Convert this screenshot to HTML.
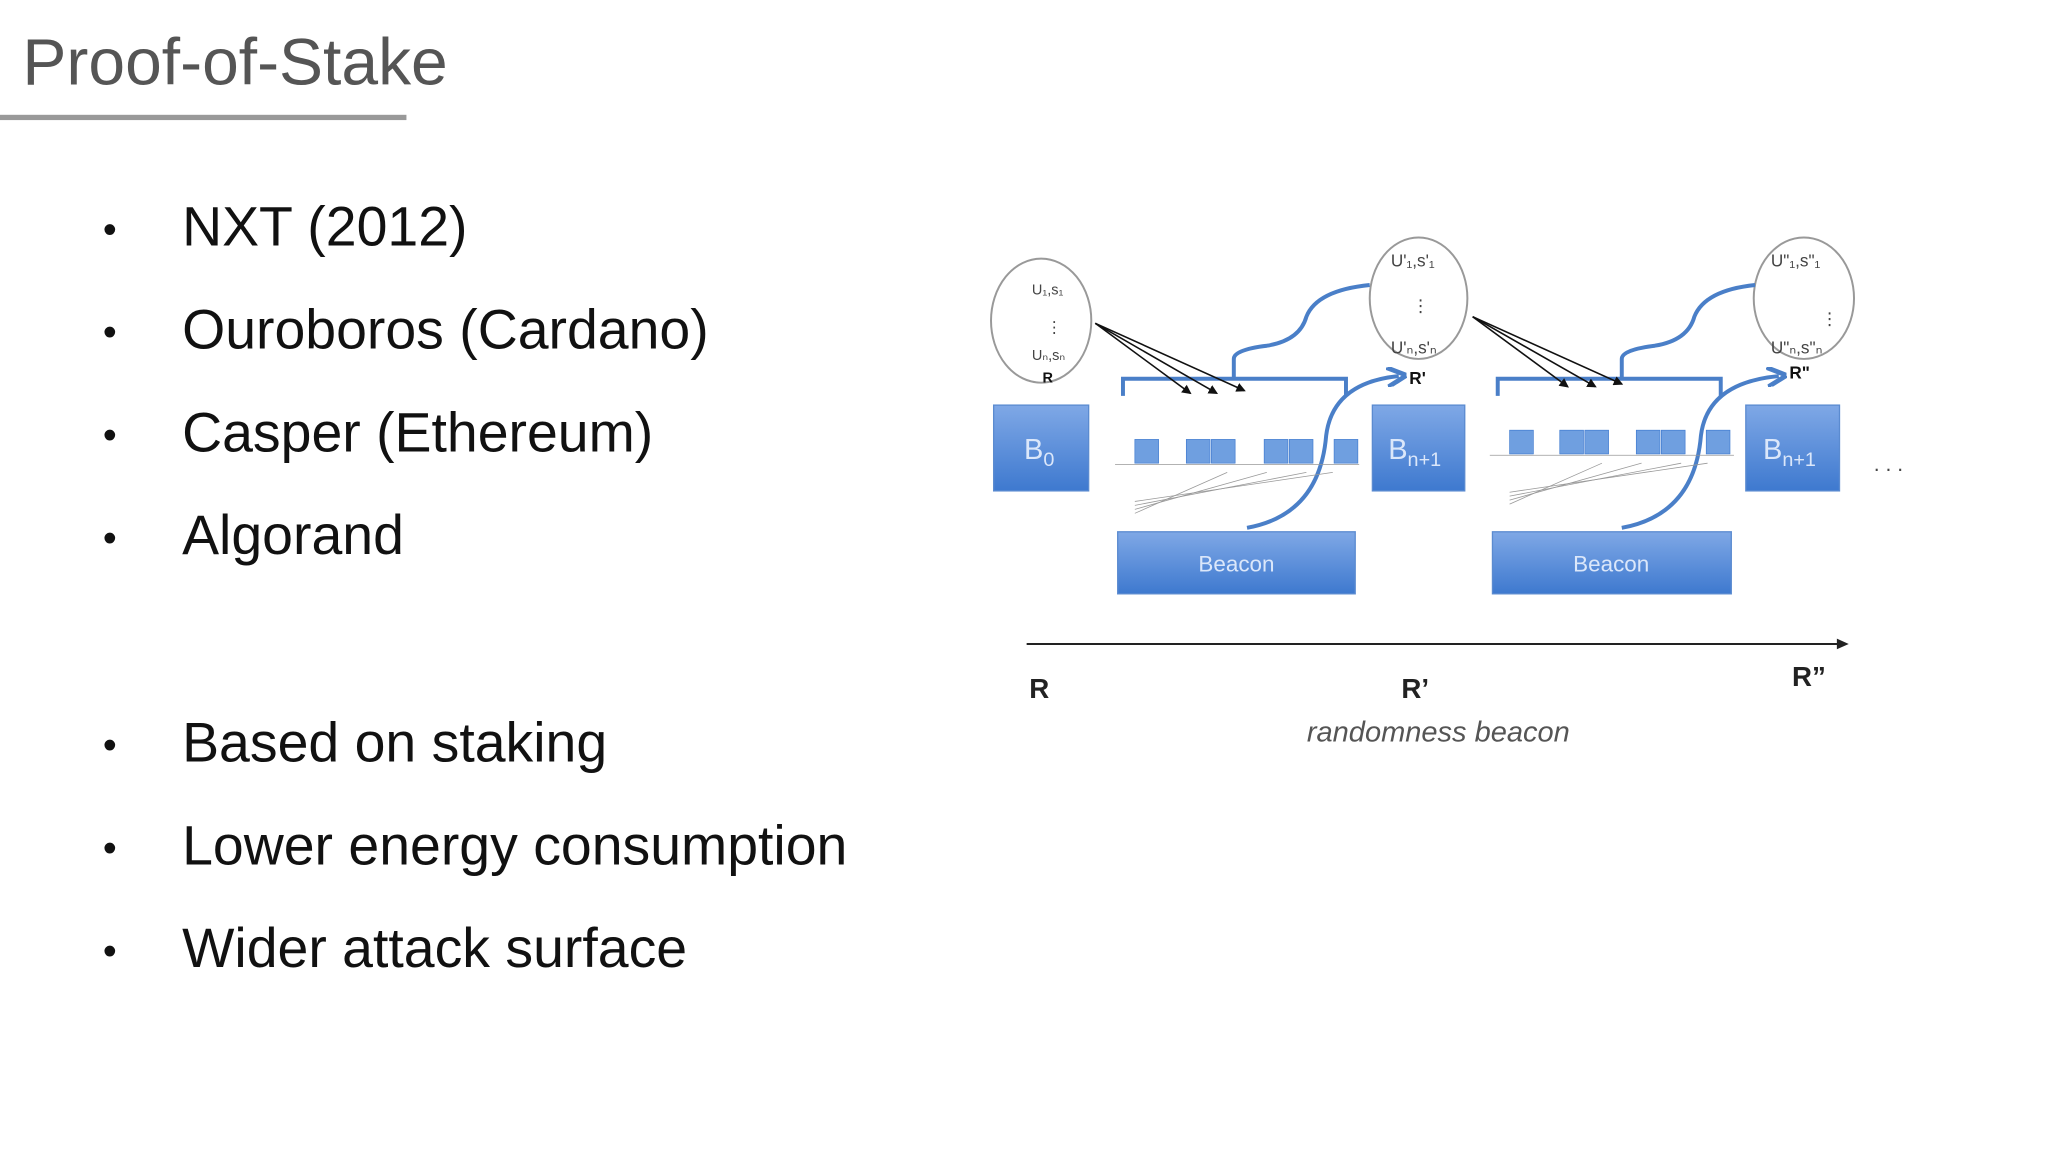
<!DOCTYPE html>
<html><head><meta charset="utf-8"><style>
html,body{margin:0;padding:0;background:#fff;width:2048px;height:1152px;overflow:hidden}
svg{display:block}
text{font-family:"Liberation Sans","DejaVu Sans",sans-serif}
</style></head><body>
<svg width="2048" height="1152" viewBox="0 0 1552 873" xmlns="http://www.w3.org/2000/svg">
<defs>
<linearGradient id="bg" x1="0" y1="0" x2="0" y2="1"><stop offset="0" stop-color="#7fa8e6"/><stop offset="1" stop-color="#3e79cf"/></linearGradient>
<marker id="ah" markerWidth="6" markerHeight="6" refX="5" refY="3" orient="auto"><path d="M0,0 L6,3 L0,6 z" fill="#111"/></marker>
<marker id="bh" markerWidth="5" markerHeight="5" refX="3" refY="2.5" orient="auto"><path d="M0,0 L5,2.5 L0,5" fill="none" stroke="#4a7fc8" stroke-width="1.2"/></marker>
</defs>
<text x="17" y="64" font-size="50" fill="#555">Proof-of-Stake</text>
<rect x="0" y="87" width="308" height="4" fill="#999"/>
<g font-size="42" fill="#111">
<text x="78" y="184" font-size="30">•</text><text x="138" y="186">NXT (2012)</text>
<text x="78" y="262" font-size="30">•</text><text x="138" y="264">Ouroboros (Cardano)</text>
<text x="78" y="340" font-size="30">•</text><text x="138" y="342">Casper (Ethereum)</text>
<text x="78" y="418" font-size="30">•</text><text x="138" y="420">Algorand</text>
<text x="78" y="575" font-size="30">•</text><text x="138" y="577">Based on staking</text>
<text x="78" y="653" font-size="30">•</text><text x="138" y="655">Lower energy consumption</text>
<text x="78" y="731" font-size="30">•</text><text x="138" y="733">Wider attack surface</text>
</g>
<!-- ellipses -->
<g fill="#fff" stroke="#999" stroke-width="1.5">
<ellipse cx="789" cy="243" rx="38" ry="47"/>
<ellipse cx="1075" cy="226" rx="37" ry="46"/>
<ellipse cx="1367" cy="226" rx="38" ry="46"/>
</g>
<g fill="#444" font-size="13">
<text x="782" y="223" font-size="11">U₁,s₁</text><text x="793" y="252" font-size="12">⋮</text><text x="782" y="273" font-size="11">Uₙ,sₙ</text>
<text x="790" y="290" font-size="11" font-weight="bold" fill="#111">R</text>
<text x="1054" y="202">U'₁,s'₁</text><text x="1070" y="236">⋮</text><text x="1054" y="268">U'ₙ,s'ₙ</text>
<text x="1068" y="291" font-weight="bold" fill="#111">R'</text>
<text x="1342" y="202">U"₁,s"₁</text><text x="1380" y="246">⋮</text><text x="1342" y="268">U"ₙ,s"ₙ</text>
<text x="1356" y="287" font-weight="bold" fill="#111">R"</text>
</g>
<!-- blocks -->
<g fill="url(#bg)" stroke="#5b8bd0">
<rect x="753" y="307" width="72" height="65"/>
<rect x="1040" y="307" width="70" height="65"/>
<rect x="1323" y="307" width="71" height="65"/>
<rect x="847" y="403" width="180" height="47"/>
<rect x="1131" y="403" width="181" height="47"/>
</g>
<g fill="#dbe7fa" font-size="22">
<text x="776" y="348">B<tspan font-size="15" dy="5">0</tspan></text>
<text x="1052" y="348">B<tspan font-size="15" dy="5">n+1</tspan></text>
<text x="1336" y="348">B<tspan font-size="15" dy="5">n+1</tspan></text>
<text x="937" y="433" font-size="17" text-anchor="middle">Beacon</text>
<text x="1221" y="433" font-size="17" text-anchor="middle">Beacon</text>
</g>
<text x="1420" y="357" font-size="16" fill="#444">. . .</text>
<!-- brackets and curves -->
<g fill="none" stroke="#4a7fc8" stroke-width="3">
<path d="M851,300 V287 H1020 V300 M935,287 V272 Q935,265 960,262 Q985,258 990,240 Q998,220 1038,216"/>
<path d="M1135,300 V287 H1304 V300 M1229,287 V272 Q1229,265 1254,262 Q1279,258 1284,240 Q1292,220 1330,216"/>
<path d="M945,400 Q1000,390 1005,330 Q1010,290 1060,285" marker-end="url(#bh)"/>
<path d="M1229,400 Q1284,390 1289,330 Q1294,290 1348,285" marker-end="url(#bh)"/>
</g>
<!-- black arrows -->
<g stroke="#111" stroke-width="1.2" marker-end="url(#ah)">
<line x1="830" y1="245" x2="902" y2="298"/><line x1="830" y1="245" x2="922" y2="298"/><line x1="830" y1="245" x2="943" y2="296"/>
<line x1="1116" y1="240" x2="1188" y2="293"/><line x1="1116" y1="240" x2="1209" y2="293"/><line x1="1116" y1="240" x2="1229" y2="291"/>
</g>
<!-- mini charts -->
<g fill="#6f9fe0" stroke="#3e79cf" stroke-width="0.5">
<rect x="860" y="333" width="18" height="18"/><rect x="899" y="333" width="18" height="18"/><rect x="918" y="333" width="18" height="18"/><rect x="958" y="333" width="18" height="18"/><rect x="977" y="333" width="18" height="18"/><rect x="1011" y="333" width="18" height="18"/>
<rect x="1144" y="326" width="18" height="18"/><rect x="1182" y="326" width="18" height="18"/><rect x="1201" y="326" width="18" height="18"/><rect x="1240" y="326" width="18" height="18"/><rect x="1259" y="326" width="18" height="18"/><rect x="1293" y="326" width="18" height="18"/>
</g>
<g stroke="#999" stroke-width="0.6">
<line x1="845" y1="352" x2="1030" y2="352"/><line x1="1129" y1="345" x2="1314" y2="345"/>
<line x1="860" y1="380" x2="1010" y2="358"/><line x1="860" y1="383" x2="990" y2="358"/><line x1="860" y1="386" x2="960" y2="358"/><line x1="860" y1="389" x2="930" y2="358"/>
<line x1="1144" y1="373" x2="1294" y2="351"/><line x1="1144" y1="376" x2="1274" y2="351"/><line x1="1144" y1="379" x2="1244" y2="351"/><line x1="1144" y1="382" x2="1214" y2="351"/>
</g>
<!-- axis -->
<line x1="778" y1="488" x2="1396" y2="488" stroke="#222" stroke-width="1.5"/>
<path d="M1392,484 L1401,488 L1392,492 z" fill="#222"/>
<g font-size="21" font-weight="bold" fill="#222">
<text x="780" y="529">R</text><text x="1062" y="529">R’</text><text x="1358" y="520">R”</text>
</g>
<text x="1090" y="562" font-size="22" font-style="italic" fill="#555" text-anchor="middle">randomness beacon</text>
</svg>
</body></html>
